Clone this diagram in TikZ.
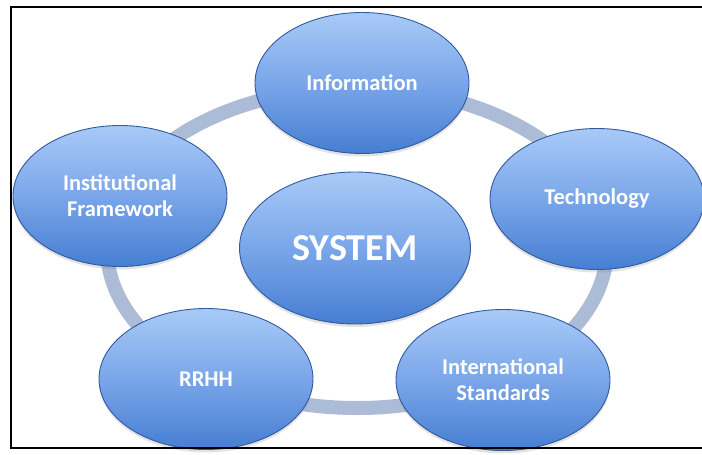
\documentclass[tikz,border=0pt]{standalone}
\usepackage{fontspec}
\setmainfont{Carlito}
\usetikzlibrary{shapes.geometric,shadows}
\definecolor{ringcol}{RGB}{172,188,214}
\definecolor{eltop}{RGB}{168,202,247}
\definecolor{elmid}{RGB}{122,166,233}
\definecolor{elbot}{RGB}{70,126,210}
\definecolor{eledge}{RGB}{50,90,158}
\begin{document}
\begin{tikzpicture}[x=1pt,y=-1pt,
  bubble/.style={ellipse, draw=eledge, line width=0.9pt, inner sep=0pt,
    minimum width=214pt, minimum height=141pt,
    top color=eltop, bottom color=elbot, middle color=elmid,
    text=white, align=center,
    font=\fontsize{22.5}{26}\selectfont\bfseries,
    drop shadow={opacity=0.22, shadow xshift=0pt, shadow yshift=-3pt}},
  ring/.style={draw=ringcol, line width=14pt},
  frame/.style={draw=black, line width=2.3pt}
]
\useasboundingbox (0,0) rectangle (702,455);
\fill[white] (0,0) rectangle (702,455);
\coordinate (ringc) at (357,248);
\path[ring] (ringc) ellipse [x radius=250pt, y radius=160pt];
\node[bubble] (info) at (362,83) {Information};
\node[bubble] (tech) at (597,199) {Technology};
\node[bubble] (intl) at (503,380) {International\\Standards};
\node[bubble] (rrhh) at (206,379) {RRHH};
\node[bubble] (inst) at (120,196) {Institutional\\Framework};
\node[bubble, minimum width=231pt, minimum height=152pt,
  font=\fontsize{38}{40}\selectfont\bfseries] (sys) at (355,248) {SYSTEM};
\coordinate (f1) at (702,7);
\coordinate (f2) at (11,7);
\coordinate (f3) at (11,448);
\coordinate (f4) at (702,448);
\path[frame] (f1) -- (f2) -- (f3) -- (f4);
\end{tikzpicture}
\end{document}
